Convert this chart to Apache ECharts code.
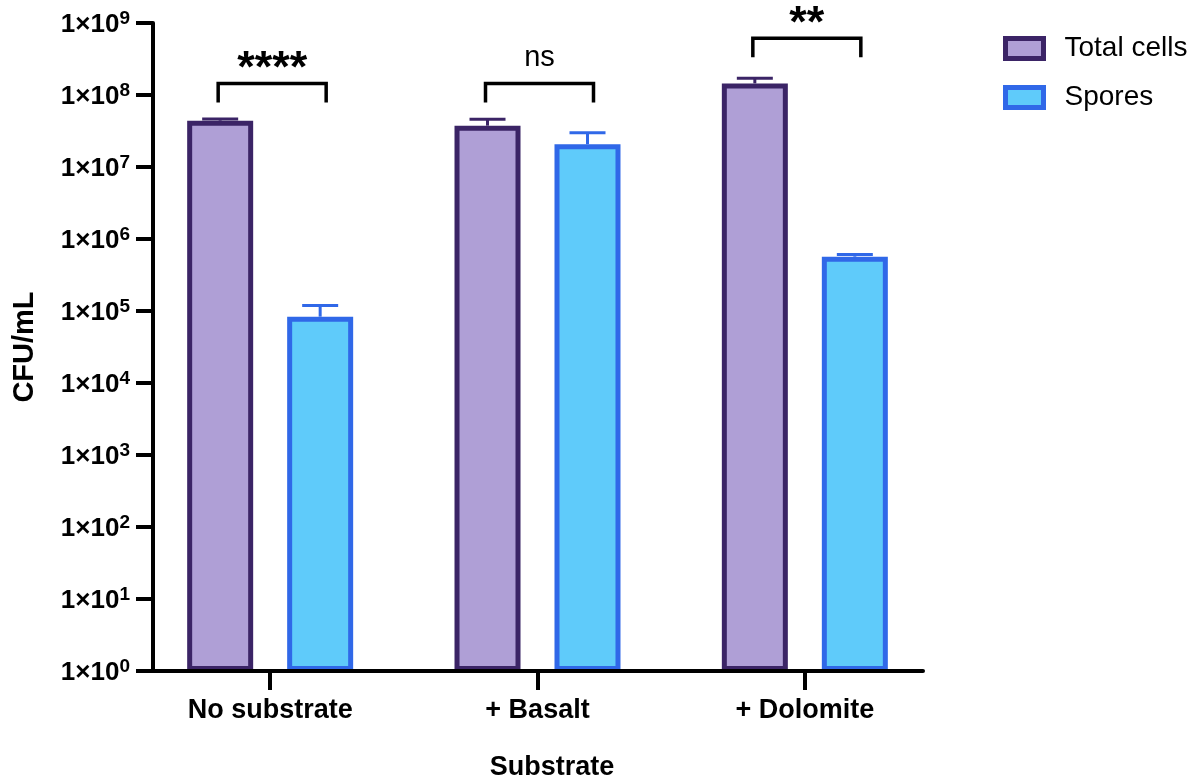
<!DOCTYPE html>
<html><head><meta charset="utf-8">
<script src="https://cdn.jsdelivr.net/npm/echarts@6/dist/echarts.min.js"></script>
<style>html,body{margin:0;padding:0;background:#fff}#c{width:1200px;height:778px}</style>
</head><body><div id="c"></div>
<script>
// ---- data ----
const categories = ['No substrate', '+ Basalt', '+ Dolomite'];
const seriesNames = ['Total cells', 'Spores'];
const totalCells = [4.4e7, 3.75e7, 1.45e8];
const totalCellsErrTop = [4.65e7, 4.6e7, 1.71e8];
const spores = [8.34e4, 2.07e7, 5.68e5];
const sporesErrTop = [1.19e5, 2.99e7, 6.1e5];
const sigLabels = ['****', 'ns', '**'];
const sigBracketLevel = [1.44e8, 1.44e8, 6.13e8];
const yMin = 1, yMax = 1e9;

// ---- style ----
const FONT = "'Liberation Sans', Arial, Helvetica, sans-serif";
const totalFill = '#AF9FD6', totalEdge = '#3B2466';
const sporeFill = '#5FCBFA', sporeEdge = '#3068E8';
const BAR_OFF = 50;

const chart = echarts.init(document.getElementById('c'), null, {renderer: 'canvas'});

function errRenderer(offset, color) {
  return function (params, api) {
    const cat = api.value(0);
    const base = api.coord([cat, api.value(1)]);
    const top = api.coord([cat, api.value(2)]);
    const x = base[0] + offset;
    return {
      type: 'group',
      children: [
        {type: 'line', shape: {x1: x, y1: base[1], x2: x, y2: top[1]}, style: {stroke: color, lineWidth: 3}},
        {type: 'line', shape: {x1: x - 18, y1: top[1], x2: x + 18, y2: top[1]}, style: {stroke: color, lineWidth: 3}}
      ]
    };
  };
}

function bracketRenderer(params, api) {
  const cat = api.value(0);
  const p = api.coord([cat, api.value(1)]);
  const label = sigLabels[params.dataIndex];
  const xl = p[0] - 52, xr = p[0] + 56, y = p[1], leg = 19;
  const isStar = label.indexOf('*') >= 0;
  return {
    type: 'group',
    children: [
      {type: 'polyline', shape: {points: [[xl, y + leg], [xl, y], [xr, y], [xr, y + leg]]},
        style: {stroke: '#000', lineWidth: 3.5, fill: null}},
      {type: 'text', x: (xl + xr) / 2, y: y - (isStar ? 14 : 26),
        style: {text: label, fill: '#000', align: 'center', verticalAlign: 'middle',
          font: (isStar ? 'bold 45px ' : '29px ') + FONT}}
    ]
  };
}

const option = {
  backgroundColor: '#fff',
  animation: false,
  textStyle: {fontFamily: FONT},
  legend: {
    data: seriesNames,
    orient: 'vertical',
    left: 998, top: 29.5,
    icon: 'rect',
    itemWidth: 38, itemHeight: 20, itemGap: 21,
    itemStyle: {borderWidth: 5},
    textStyle: {fontSize: 28, color: '#000', fontFamily: FONT, padding: [0, 0, 0, 16]}
  },
  grid: [
    {left: 136.5, right: 261.5, top: 23, bottom: 107, outerBoundsMode: 'none', containLabel: false},
    {left: 153, right: 277, top: 23, bottom: 107, outerBoundsMode: 'none', containLabel: false}
  ],
  xAxis: [
    {
      type: 'category', gridIndex: 0, data: categories,
      axisLine: {show: false, onZero: false},
      axisTick: {show: true, alignWithLabel: true, length: 19, lineStyle: {color: '#000', width: 4}},
      axisLabel: {color: '#000', fontSize: 27, fontWeight: 'bold', fontFamily: FONT, margin: 26}
    },
    {
      type: 'value', gridIndex: 1, min: 0, max: 1, z: 10,
      axisLine: {show: true, onZero: false, lineStyle: {color: '#000', width: 4}},
      axisTick: {show: false}, axisLabel: {show: false}, splitLine: {show: false},
      name: 'Substrate', nameLocation: 'middle', nameGap: 83,
      nameTextStyle: {color: '#000', fontSize: 27, fontWeight: 'bold', fontFamily: FONT, padding: [0, 0, 0, 28]}
    }
  ],
  yAxis: [
    {
      type: 'log', logBase: 10, gridIndex: 0, min: yMin, max: yMax,
      show: false, splitLine: {show: false}
    },
    {
      type: 'log', logBase: 10, gridIndex: 1, min: yMin, max: yMax, interval: 1, z: 10,
      axisLine: {show: true, lineStyle: {color: '#000', width: 4}},
      axisTick: {show: true, length: 17, lineStyle: {color: '#000', width: 4}},
      splitLine: {show: false},
      axisLabel: {
        margin: 23,
        formatter: function (v) {
          const e = Math.round(Math.log10(v));
          return '{b|1×10}{s|' + e + '}';
        },
        rich: {
          b: {fontSize: 26, fontWeight: 'bold', color: '#000', fontFamily: FONT, padding: [4, 0, 0, 0]},
          s: {fontSize: 19, fontWeight: 'bold', color: '#000', fontFamily: FONT, padding: [0, 0, 8, 0]}
        }
      },
      name: 'CFU/mL', nameLocation: 'middle', nameGap: 114,
      nameTextStyle: {color: '#000', fontSize: 29, fontWeight: 'bold', fontFamily: FONT}
    }
  ],
  series: [
    {
      name: seriesNames[0], type: 'bar', xAxisIndex: 0, yAxisIndex: 0,
      data: totalCells, barWidth: 66, barGap: '51.5%',
      itemStyle: {color: totalFill, borderColor: totalEdge, borderWidth: 5}
    },
    {
      name: seriesNames[1], type: 'bar', xAxisIndex: 0, yAxisIndex: 0,
      data: spores, barWidth: 66, barGap: '51.5%',
      itemStyle: {color: sporeFill, borderColor: sporeEdge, borderWidth: 5}
    },
    {
      type: 'custom', xAxisIndex: 0, yAxisIndex: 0, z: 3,
      renderItem: errRenderer(-BAR_OFF, totalEdge),
      encode: {x: 0, y: [1, 2]},
      data: categories.map((c, i) => [i, totalCells[i], totalCellsErrTop[i]])
    },
    {
      type: 'custom', xAxisIndex: 0, yAxisIndex: 0, z: 3,
      renderItem: errRenderer(BAR_OFF, sporeEdge),
      encode: {x: 0, y: [1, 2]},
      data: categories.map((c, i) => [i, spores[i], sporesErrTop[i]])
    },
    {
      type: 'custom', xAxisIndex: 0, yAxisIndex: 0, z: 4,
      renderItem: bracketRenderer,
      encode: {x: 0, y: 1},
      data: categories.map((c, i) => [i, sigBracketLevel[i]])
    }
  ]
};
chart.setOption(option);
</script>
</body></html>
